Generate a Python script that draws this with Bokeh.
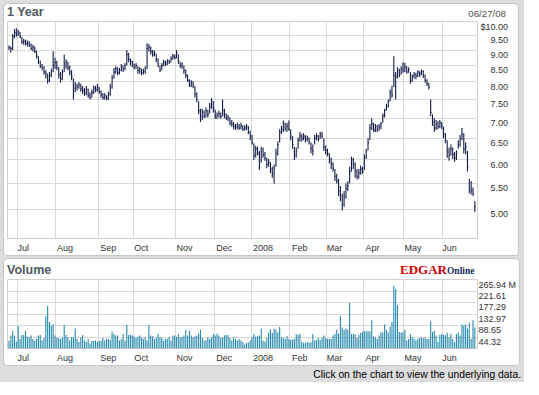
import math
from bokeh.plotting import figure
from bokeh.models import FixedTicker, Range1d, Div
from bokeh.layouts import column
from bokeh.embed import file_html
from bokeh.resources import INLINE

# ---------------- data ----------------
close = [
    9.10, 9.05, 9.45, 9.60, 9.55, 9.62, 9.45, 9.28, 9.30, 9.22,
    9.25, 9.18, 9.05, 9.10, 8.95, 8.80, 8.62, 8.48, 8.42, 8.30,
    8.25, 8.05, 8.20, 8.30, 8.50, 8.60, 8.45, 8.22, 8.10, 8.30,
    8.55, 8.60, 8.45, 8.30, 8.15, 7.82, 7.90, 7.85, 7.92, 7.80,
    7.75, 7.68, 7.80, 7.62, 7.55, 7.70, 7.82, 7.78, 7.85, 7.72,
    7.62, 7.55, 7.60, 7.52, 7.65, 7.85, 8.10, 8.30, 8.40, 8.28,
    8.35, 8.45, 8.38, 8.50, 8.85, 8.70, 8.62, 8.55, 8.45, 8.50,
    8.35, 8.40, 8.28, 8.32, 8.40, 9.05, 9.10, 8.95, 8.85, 8.90,
    8.70, 8.55, 8.35, 8.50, 8.60, 8.55, 8.65, 8.60, 8.72, 8.80,
    8.75, 8.90, 8.65, 8.50, 8.55, 8.35, 8.20, 8.05, 7.92, 8.00,
    7.90, 7.65, 7.50, 7.20, 7.05, 7.15, 7.05, 7.20, 7.10, 7.30,
    7.45, 7.25, 7.05, 7.08, 7.12, 7.05, 7.20, 7.10, 7.02, 7.00,
    6.88, 6.85, 6.80, 6.78, 6.82, 6.75, 6.80, 6.72, 6.75, 6.78,
    6.65, 6.55, 6.40, 6.10, 6.25, 6.15, 5.95, 6.20, 6.12, 6.05,
    5.90, 5.95, 5.80, 5.70, 5.82, 6.15, 6.35, 6.65, 6.72, 6.85,
    6.75, 6.80, 6.72, 6.55, 6.35, 6.10, 6.20, 6.45, 6.55, 6.50,
    6.55, 6.48, 6.50, 6.42, 6.25, 6.20, 6.50, 6.55, 6.48, 6.60,
    6.55, 6.30, 6.22, 6.15, 6.00, 5.90, 5.82, 5.65, 5.55, 5.35,
    5.25, 5.08, 5.25, 5.40, 5.45, 5.75, 6.00, 5.90, 5.75, 5.65,
    5.72, 5.80, 5.75, 6.05, 6.20, 6.40, 6.75, 6.85, 6.70, 6.80,
    6.72, 6.78, 6.85, 7.05, 7.20, 7.30, 7.45, 7.70, 7.62, 8.20,
    8.15, 8.35, 8.25, 8.40, 8.35, 8.45, 8.30, 8.38, 8.05, 8.15,
    8.22, 8.18, 8.30, 8.25, 8.32, 8.20, 8.05, 7.95, 7.85, 7.15,
    6.90, 6.75, 6.85, 6.78, 6.88, 6.80, 6.60, 6.45, 6.20, 6.10,
    6.25, 6.12, 6.05, 6.15, 6.35, 6.50, 6.60, 6.25, 6.30, 5.85,
    5.40, 5.35, 5.30, 5.05,
]
high = [
    9.15, 9.12, 9.55, 9.72, 9.75, 9.70, 9.62, 9.45, 9.38, 9.35,
    9.32, 9.30, 9.22, 9.18, 9.12, 8.98, 8.80, 8.65, 8.55, 8.48,
    8.35, 8.25, 8.30, 8.40, 8.96, 8.75, 8.65, 8.45, 8.30, 8.38,
    8.85, 8.70, 8.62, 8.50, 8.35, 8.10, 8.00, 7.95, 8.00, 7.95,
    7.88, 7.82, 7.88, 7.80, 7.70, 7.78, 7.90, 7.88, 7.95, 7.85,
    7.75, 7.68, 7.68, 7.62, 7.72, 7.95, 8.20, 8.42, 8.48, 8.45,
    8.42, 8.55, 8.50, 8.58, 9.00, 8.90, 8.72, 8.65, 8.55, 8.58,
    8.48, 8.45, 8.40, 8.40, 8.48, 9.23, 9.20, 9.12, 9.00, 8.98,
    8.88, 8.72, 8.50, 8.58, 8.68, 8.65, 8.70, 8.68, 8.80, 8.88,
    8.85, 9.00, 8.85, 8.62, 8.60, 8.50, 8.38, 8.22, 8.08, 8.05,
    8.02, 7.88, 7.70, 7.45, 7.25, 7.25, 7.20, 7.28, 7.22, 7.40,
    7.54, 7.45, 7.22, 7.15, 7.20, 7.15, 7.50, 7.25, 7.12, 7.08,
    7.02, 6.95, 6.90, 6.85, 6.88, 6.85, 6.88, 6.82, 6.82, 6.85,
    6.80, 6.68, 6.58, 6.38, 6.32, 6.30, 6.20, 6.30, 6.28, 6.18,
    6.05, 6.02, 5.95, 5.85, 5.90, 6.25, 6.42, 6.72, 6.80, 6.94,
    6.88, 6.88, 6.94, 6.72, 6.55, 6.30, 6.28, 6.52, 6.65, 6.60,
    6.62, 6.58, 6.56, 6.52, 6.40, 6.35, 6.58, 6.62, 6.58, 6.66,
    6.65, 6.50, 6.32, 6.25, 6.15, 6.05, 5.95, 5.80, 5.70, 5.60,
    5.45, 5.30, 5.35, 5.50, 5.55, 5.85, 6.07, 6.05, 5.95, 5.80,
    5.80, 5.88, 5.85, 6.12, 6.25, 6.50, 6.85, 7.00, 6.88, 6.85,
    6.82, 6.85, 6.90, 7.12, 7.25, 7.38, 7.50, 7.78, 7.90, 8.80,
    8.30, 8.45, 8.40, 8.48, 8.60, 8.58, 8.48, 8.45, 8.30, 8.22,
    8.30, 8.28, 8.35, 8.32, 8.38, 8.35, 8.22, 8.08, 7.98, 7.50,
    7.10, 7.00, 6.95, 6.92, 6.95, 6.90, 6.78, 6.62, 6.45, 6.28,
    6.35, 6.28, 6.18, 6.22, 6.45, 6.58, 6.75, 6.62, 6.40, 6.20,
    5.60, 5.55, 5.42, 5.15,
]
low = [
    9.00, 8.92, 9.00, 9.40, 9.45, 9.48, 9.40, 9.20, 9.18, 9.15,
    9.12, 9.10, 9.00, 8.95, 8.90, 8.72, 8.55, 8.42, 8.35, 8.22,
    8.10, 7.95, 8.00, 8.15, 8.30, 8.40, 8.35, 8.10, 7.98, 8.05,
    8.30, 8.40, 8.35, 8.20, 8.05, 7.50, 7.70, 7.75, 7.80, 7.72,
    7.65, 7.60, 7.62, 7.55, 7.50, 7.55, 7.65, 7.70, 7.72, 7.65,
    7.55, 7.50, 7.50, 7.48, 7.50, 7.60, 7.80, 8.10, 8.25, 8.20,
    8.22, 8.32, 8.30, 8.35, 8.50, 8.60, 8.50, 8.45, 8.38, 8.40,
    8.25, 8.25, 8.20, 8.22, 8.25, 8.40, 8.95, 8.85, 8.78, 8.80,
    8.60, 8.45, 8.30, 8.35, 8.48, 8.48, 8.52, 8.55, 8.60, 8.68,
    8.70, 8.72, 8.55, 8.42, 8.40, 8.25, 8.12, 8.00, 7.85, 7.85,
    7.82, 7.55, 7.42, 7.10, 6.90, 6.95, 7.00, 7.02, 7.02, 7.12,
    7.25, 7.15, 6.98, 6.98, 7.02, 6.98, 7.05, 7.00, 6.95, 6.92,
    6.82, 6.78, 6.72, 6.70, 6.72, 6.70, 6.72, 6.68, 6.68, 6.70,
    6.60, 6.45, 6.35, 6.00, 6.05, 6.10, 5.78, 5.95, 6.05, 5.98,
    5.82, 5.85, 5.72, 5.62, 5.50, 5.85, 6.10, 6.40, 6.60, 6.65,
    6.68, 6.65, 6.68, 6.45, 6.25, 6.00, 6.05, 6.25, 6.42, 6.42,
    6.45, 6.40, 6.42, 6.35, 6.15, 6.10, 6.35, 6.45, 6.42, 6.48,
    6.50, 6.20, 6.12, 6.08, 5.92, 5.80, 5.75, 5.55, 5.50, 5.25,
    5.15, 4.98, 5.05, 5.20, 5.35, 5.50, 5.75, 5.80, 5.62, 5.58,
    5.60, 5.68, 5.70, 5.78, 6.02, 6.22, 6.45, 6.70, 6.65, 6.65,
    6.65, 6.68, 6.72, 6.88, 7.02, 7.20, 7.28, 7.45, 7.55, 7.85,
    7.50, 8.10, 8.15, 8.22, 8.28, 8.30, 8.25, 8.28, 7.95, 8.00,
    8.10, 8.08, 8.15, 8.15, 8.20, 8.12, 7.98, 7.88, 7.78, 7.05,
    6.80, 6.65, 6.70, 6.72, 6.75, 6.72, 6.50, 6.38, 6.05, 5.98,
    6.10, 6.02, 5.96, 6.00, 6.25, 6.30, 6.45, 6.15, 6.12, 5.75,
    5.30, 5.28, 5.25, 4.95,
]
# volume in millions of shares
volume = [
    31, 50, 68, 50, 27, 87, 37, 52, 52, 68,
    45, 43, 50, 37, 31, 37, 50, 52, 31, 40,
    124, 164, 102, 89, 93, 50, 41, 40, 37, 42,
    91, 52, 43, 31, 43, 43, 77, 37, 25, 43,
    52, 31, 25, 37, 19, 29, 29, 31, 25, 29,
    30, 40, 31, 37, 37, 33, 66, 56, 50, 50,
    31, 37, 56, 31, 91, 52, 52, 50, 46, 40,
    45, 50, 43, 37, 43, 31, 91, 50, 47, 37,
    40, 56, 43, 40, 31, 37, 37, 43, 31, 50,
    50, 45, 56, 43, 43, 50, 71, 50, 68, 50,
    43, 47, 50, 58, 72, 40, 31, 31, 43, 37,
    43, 56, 50, 58, 50, 40, 43, 50, 52, 52,
    40, 31, 43, 37, 31, 37, 31,
    25, 15, 21, 22, 31, 43, 56, 46, 47, 50,
    77, 31, 27, 40, 62, 74, 60, 77, 72, 62,
    84, 43, 40, 37, 47, 37, 33, 35, 37, 56,
    52, 58, 25, 22, 22, 25, 22, 25, 56, 31,
    33, 40, 33, 40, 50, 40, 37, 37, 37, 50,
    56, 72, 58, 126, 81, 72, 77, 72, 176, 56,
    56, 56, 40, 52, 60, 64, 68, 66, 68, 66,
    109, 46, 43, 37, 50, 62, 62, 93, 71, 62,
    84, 102, 242, 229, 167, 64, 62, 62, 72, 31,
    37, 56, 43, 37, 31, 37, 40, 41, 40, 41,
    37, 37, 105, 64, 68, 50, 25, 52, 56, 52,
    52, 60, 43, 56, 37, 25, 56, 62, 50, 93,
    89, 93, 77, 99, 37, 109, 81,
]
month_labels = ["Jul", "Aug", "Sep", "Oct", "Nov", "Dec", "2008",
                "Feb", "Mar", "Apr", "May", "Jun"]
month_start_idx = [5, 26, 49, 68, 91, 112, 132, 153, 173, 193, 215, 236]
price_ticks = [10.0, 9.5, 9.0, 8.5, 8.0, 7.5, 7.0, 6.5, 6.0, 5.5, 5.0]
price_tick_labels = ["$10.00", "9.50", "9.00", "8.50", "8.00", "7.50",
                     "7.00", "6.50", "6.00", "5.50", "5.00"]
vol_ticks = [265.94, 221.61, 177.29, 132.97, 88.65, 44.32]
vol_tick_labels = ["265.94 M", "221.61", "177.29", "132.97", "88.65", "44.32"]
title_text = "1 Year"
date_text = "06/27/08"
vol_title = "Volume"
footer_text = "Click on the chart to view the underlying data."

# ---------------- geometry / style ----------------
x = list(range(len(close)))
X0, X1 = -0.8, 254.45
FW = 470
INNER_W = 514
PFH, PBOT, PTOP = 217, 4.49, 10.0
VFH, VTOP = 69, 265.94
FONT = "Liberation Sans"
BAR = "#141c48"
VOLC = "#2a8bad"
GRID = "#d9d9d9"
PANEL_STYLE = {"border": "1px solid #c6c6c6", "border-radius": "5px",
               "overflow": "hidden", "background-color": "white"}

label_shift_px = [6, 9, 10, 8, 9, 10, 12, 10, 8, 9, 9, 7]
grid_x = [m - 0.5 for m in month_start_idx]
xt = [g + s * (X1 - X0) / FW for g, s in zip(grid_x, label_shift_px)]
x_over = {t: l for t, l in zip(xt, month_labels)}


def style_axis(ax, standoff):
    ax.axis_line_color = None
    ax.major_tick_line_color = None
    ax.minor_tick_line_color = None
    ax.major_tick_out = 0
    ax.major_tick_in = 0
    ax.major_label_standoff = standoff
    ax.major_label_text_font = FONT
    ax.major_label_text_font_size = "9px"
    ax.major_label_text_color = "#333333"


def style_xaxis(ax):
    ax.ticker = FixedTicker(ticks=xt, minor_ticks=[])
    ax.major_label_overrides = x_over
    style_axis(ax, 4)


# ---------------- price panel ----------------
p = figure(frame_width=FW, frame_height=PFH, x_range=Range1d(X0, X1),
           y_range=Range1d(PBOT, PTOP), y_axis_type="log",
           y_axis_location="right", toolbar_location=None,
           output_backend="svg", min_border_left=3,
           min_border_right=INNER_W - FW - 3, min_border_top=0,
           min_border_bottom=16, border_fill_color="white",
           background_fill_color="white", outline_line_color="#cfcfcf")
style_xaxis(p.xaxis[0])
shift = math.exp(-4.8 * math.log(PTOP / PBOT) / PFH)
pt = [v * shift for v in price_ticks]
pad = {4: "\u2007\u2007", 6: ""}
ya = p.yaxis[0]
ya.ticker = FixedTicker(ticks=pt, minor_ticks=[])
ya.major_label_overrides = {t: pad[len(l)] + l for t, l in zip(pt, price_tick_labels)}
style_axis(ya, 3)
p.xgrid.ticker = FixedTicker(ticks=grid_x, minor_ticks=[])
p.ygrid.ticker = FixedTicker(ticks=price_ticks, minor_ticks=[])
p.xgrid.grid_line_color = GRID
p.ygrid.grid_line_color = GRID

p.segment(x0=x, y0=low, x1=x, y1=high, line_color=BAR, line_width=1.1)
p.segment(x0=x, y0=close, x1=[i + 0.55 for i in x], y1=close,
          line_color=BAR, line_width=1)

header1 = Div(
    text=(f'<div style="position:relative;width:{INNER_W}px;height:17px;'
          f'font-family:{FONT};">'
          f'<span style="position:absolute;left:3px;top:1px;font-weight:bold;'
          f'font-size:12.5px;line-height:15px;color:#4f5963;">{title_text}</span>'
          f'<span style="position:absolute;right:12px;top:4px;font-size:9.7px;'
          f'line-height:12px;color:#555555;">{date_text}</span></div>'),
    width=INNER_W, height=17, margin=0)

panel1 = column(header1, p, spacing=0, margin=(3, 4, 0, 3),
                styles=PANEL_STYLE)

# ---------------- volume panel ----------------
q = figure(frame_width=FW, frame_height=VFH, x_range=Range1d(X0, X1),
           y_range=Range1d(0, VTOP), y_axis_location="right",
           toolbar_location=None, output_backend="svg",
           min_border_left=3, min_border_right=INNER_W - FW - 3,
           min_border_top=0, min_border_bottom=15,
           border_fill_color="white", background_fill_color="white",
           outline_line_color="#cfcfcf")
style_xaxis(q.xaxis[0])
vt = [v - 4.5 * VTOP / VFH for v in vol_ticks]
yb = q.yaxis[0]
yb.ticker = FixedTicker(ticks=vt, minor_ticks=[])
yb.major_label_overrides = {t: l for t, l in zip(vt, vol_tick_labels)}
style_axis(yb, 1)
q.xgrid.ticker = FixedTicker(ticks=grid_x, minor_ticks=[])
q.ygrid.ticker = FixedTicker(ticks=vol_ticks, minor_ticks=[])
q.xgrid.grid_line_color = GRID
q.ygrid.grid_line_color = GRID

q.vbar(x=x, top=volume, bottom=0, width=0.6, fill_color=VOLC,
       line_color=None)

header2 = Div(
    text=(f'<div style="position:relative;width:{INNER_W}px;height:20px;'
          f'font-family:{FONT};">'
          f'<span style="position:absolute;left:3px;top:4px;font-weight:bold;'
          f'font-size:12.5px;line-height:15px;color:#4f5963;">{vol_title}</span>'
          f'<span style="position:absolute;left:396px;top:4px;line-height:13px;'
          f'font-family:Liberation Serif;font-weight:bold;white-space:nowrap;">'
          f'<span style="color:#d00000;font-size:13px;">EDGAR</span>'
          f'<span style="color:#1c2c5c;font-size:9.5px;">Online</span></span>'
          f'</div>'),
    width=INNER_W, height=20, margin=0)

panel2 = column(header2, q, spacing=0, margin=(2, 4, 0, 3),
                styles=PANEL_STYLE)

footer = Div(text=footer_text, width=521, height=14, margin=(2, 0, 0, 0),
             styles={"text-align": "right", "font-family": FONT,
                     "font-size": "10.3px", "color": "#000000",
                     "line-height": "14px"})

layout = column(panel1, panel2, footer, spacing=0,
                styles={"background-color": "#dddddd"})

open("out.html", "w").write(file_html(layout, INLINE))
